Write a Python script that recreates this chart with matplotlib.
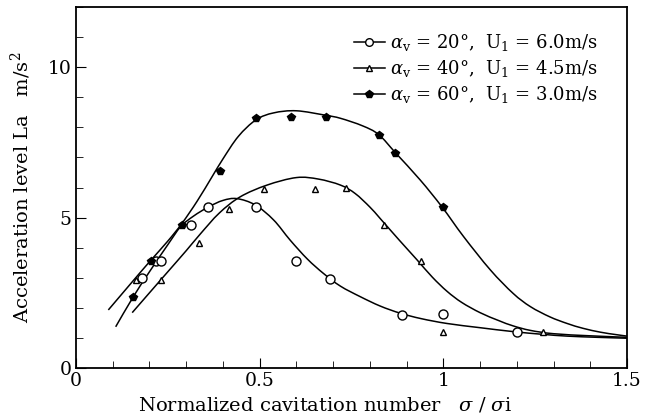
import numpy as np
import matplotlib
matplotlib.use("Agg")
import matplotlib.pyplot as plt
from matplotlib.path import Path
from matplotlib.patches import PathPatch
from matplotlib.ticker import MultipleLocator

plt.rcParams['font.family'] = ['DejaVu Serif']
plt.rcParams['mathtext.fontset'] = 'dejavuserif'

# measured points
x_20 = [0.179, 0.218, 0.232, 0.312, 0.36, 0.49, 0.60, 0.692, 0.887, 1.0, 1.2]
y_20 = [2.98, 3.56, 3.56, 4.75, 5.34, 5.34, 3.55, 2.96, 1.76, 1.78, 1.19]

x_40 = [0.163, 0.232, 0.336, 0.416, 0.512, 0.651, 0.736, 0.839, 0.94, 1.0, 1.272]
y_40 = [2.94, 2.94, 4.14, 5.30, 5.94, 5.94, 5.97, 4.75, 3.55, 1.19, 1.19]

x_60 = [0.156, 0.204, 0.288, 0.393, 0.49, 0.585, 0.681, 0.824, 0.869, 1.0]
y_60 = [2.37, 3.56, 4.75, 6.54, 8.32, 8.33, 8.33, 7.76, 7.16, 5.36]

# fitted curves, nodes
cx_20 = [0.108, 0.156, 0.2, 0.25, 0.285, 0.32, 0.36, 0.40, 0.438, 0.488, 0.538, 0.583,
         0.63, 0.674, 0.72, 0.774, 0.828, 0.883, 0.94, 1.01, 1.1, 1.19, 1.27, 1.337, 1.42, 1.5]
cy_20 = [1.37, 2.37, 3.2, 4.1, 4.7, 5.05, 5.35, 5.57, 5.63, 5.42, 4.92, 4.25,
         3.62, 3.14, 2.72, 2.37, 2.06, 1.82, 1.64, 1.48, 1.34, 1.21, 1.12, 1.06, 1.02, 0.99]

cx_40 = [0.153, 0.2, 0.25, 0.3, 0.338, 0.39, 0.447, 0.52, 0.6, 0.66, 0.72, 0.76,
         0.80, 0.828, 0.88, 0.928, 0.97, 1.01, 1.05, 1.1, 1.15, 1.19, 1.237, 1.3, 1.4, 1.5]
cy_40 = [1.84, 2.5, 3.2, 3.9, 4.45, 5.15, 5.69, 6.08, 6.33, 6.28, 6.08, 5.8,
         5.35, 4.97, 4.25, 3.6, 3.02, 2.55, 2.18, 1.84, 1.58, 1.4, 1.25, 1.14, 1.07, 1.02]

cx_60 = [0.088, 0.15, 0.2, 0.25, 0.288, 0.33, 0.37, 0.40, 0.442, 0.49, 0.538, 0.60,
         0.68, 0.72, 0.78, 0.824, 0.87, 0.937, 0.996, 1.055, 1.128, 1.19, 1.237,
         1.29, 1.337, 1.38, 1.428, 1.47, 1.5]
cy_60 = [1.93, 2.82, 3.53, 4.22, 4.8, 5.55, 6.35, 6.95, 7.7, 8.25, 8.48, 8.55,
         8.4, 8.3, 8.05, 7.76, 7.15, 6.25, 5.36, 4.37, 3.26, 2.48, 2.04,
         1.7, 1.48, 1.32, 1.19, 1.11, 1.06]

labels = [r"$\alpha_{\mathrm{v}}$ = 20°,  U$_1$ = 6.0m/s",
          r"$\alpha_{\mathrm{v}}$ = 40°,  U$_1$ = 4.5m/s",
          r"$\alpha_{\mathrm{v}}$ = 60°,  U$_1$ = 3.0m/s"]


def smooth_path(xs, ys):
    # Catmull-Rom through the nodes, drawn as cubic bezier segments
    p = np.column_stack([xs, ys])
    verts = [p[0]]
    codes = [Path.MOVETO]
    for i in range(len(p) - 1):
        p0 = p[i - 1] if i > 0 else p[i]
        p3 = p[i + 2] if i + 2 < len(p) else p[i + 1]
        c1 = p[i] + (p[i + 1] - p0) / 6
        c2 = p[i + 1] - (p3 - p[i]) / 6
        verts += [c1, c2, p[i + 1]]
        codes += [Path.CURVE4] * 3
    return Path(verts, codes)


fig = plt.figure(figsize=(6.53, 4.19), dpi=100)
ax = fig.add_axes([0.1164, 0.1217, 0.8438, 0.8616])

for cx, cy in [(cx_20, cy_20), (cx_40, cy_40), (cx_60, cy_60)]:
    ax.add_patch(PathPatch(smooth_path(cx, cy), fc='none', ec='black', lw=1.1))

ax.plot(x_20, y_20, 'o', ms=6.5, mfc='white', mec='black', mew=1.0)
ax.plot(x_40, y_40, '^', ms=4.5, mfc='white', mec='black', mew=1.0)
ax.plot(x_60, y_60, 'p', ms=6, mfc='black', mec='black')

# legend handles
h1, = ax.plot([], [], '-o', color='black', lw=1.1, ms=5.5, mfc='white', mew=1.0)
h2, = ax.plot([], [], '-^', color='black', lw=1.1, ms=4, mfc='white', mew=1.0)
h3, = ax.plot([], [], '-p', color='black', lw=1.1, ms=5.5, mfc='black')
ax.legend([h1, h2, h3], labels, loc='upper right', bbox_to_anchor=(0.967, 0.96),
          frameon=False, fontsize=13, handlelength=1.7, handletextpad=0.3,
          labelspacing=0.28, borderaxespad=0.2)

ax.set_xlim(0, 1.5)
ax.set_ylim(0, 12)
ax.set_xticks([0, 0.5, 1, 1.5])
ax.set_xticklabels(['0', '0.5', '1', '1.5'])
ax.set_yticks([0, 5, 10])
ax.xaxis.set_minor_locator(MultipleLocator(0.1))
ax.yaxis.set_minor_locator(MultipleLocator(1))
ax.tick_params(which='both', direction='in', top=False, right=False, labelsize=13.5)
ax.tick_params(which='major', length=7, pad=3)
ax.tick_params(which='minor', length=5)
for s in ax.spines.values():
    s.set_linewidth(1.3)

ax.set_xlabel(r"Normalized cavitation number   $\sigma$ / $\sigma$i", fontsize=14, labelpad=1)
ax.xaxis.set_label_coords(0.452, -0.075)
ax.set_ylabel(r"Acceleration level La   m/s$^2$", fontsize=14, labelpad=11)

fig.savefig("out.png", dpi=100)
